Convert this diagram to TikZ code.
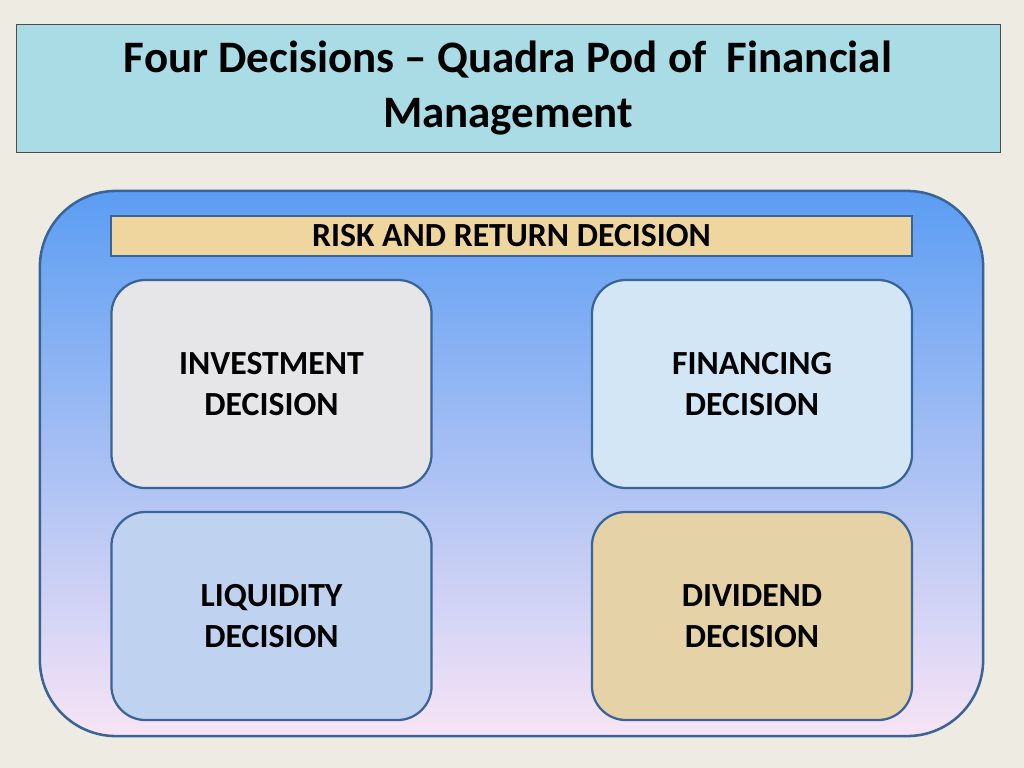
\documentclass[tikz,border=0pt]{standalone}
\usepackage{fontspec}
\setmainfont{Carlito}
\usepackage{xcolor}
\usepackage{tikz}
\usetikzlibrary{positioning,calc}
\definecolor{pagebg}{HTML}{EEEBE2}
\definecolor{edgeblue}{HTML}{3A6496}
\definecolor{waterfill}{HTML}{A9DCE4}
\definecolor{topblue}{HTML}{5B9DF3}
\definecolor{midblue}{HTML}{8FBDF4}
\definecolor{lowpink}{HTML}{F7E4F5}
\definecolor{papyrus}{HTML}{EFD69F}
\definecolor{marble}{HTML}{E6E6E8}
\definecolor{frost}{HTML}{D3E6F6}
\definecolor{lilac}{HTML}{BFD2EF}
\definecolor{sand}{HTML}{E5D2A6}
\tikzstyle{dec}= [draw=edgeblue, line width=1.6pt, rounded corners=0.85cm, minimum width=8cm, minimum height=5.2cm, align=center, font=\fontsize{24}{29}\selectfont\bfseries]

\begin{document}
\begin{tikzpicture}[x=0.025cm, y=-0.025cm]
				\fill[pagebg] (0,0) rectangle (1024,768);
				\useasboundingbox (0,0) rectangle (1024,768);
				
				\node[draw=black!70, fill=waterfill, minimum width=24.6cm, minimum height=3.2cm, align=center, font=\fontsize{32}{39.5}\selectfont\bfseries] (title) at (508, 88) {Four Decisions -- Quadra Pod of\ \ Financial\\Management};
				
				\node[draw=edgeblue, line width=1.8pt, rounded corners=1.9cm, minimum width=23.575cm, minimum height=13.625cm, top color=topblue, middle color=midblue, bottom color=lowpink] (outer) at (511.5, 463.5) {};
				
				\node[draw=edgeblue, line width=1.4pt, fill=papyrus, minimum width=20.025cm, minimum height=1cm, font=\fontsize{24}{28}\selectfont\bfseries] (risk) at (511.5, 236) {RISK AND RETURN DECISION};
				
				\node[dec, fill=marble] (invest) at (271.5, 384) {INVESTMENT\\DECISION};
				\node[dec, fill=frost] (finance) at (752, 384) {FINANCING\\DECISION};
				\node[dec, fill=lilac] (liquid) at (271.5, 616) {LIQUIDITY\\DECISION};
				\node[dec, fill=sand] (divid) at (752, 616) {DIVIDEND\\DECISION};
			\end{tikzpicture}
\end{document}
